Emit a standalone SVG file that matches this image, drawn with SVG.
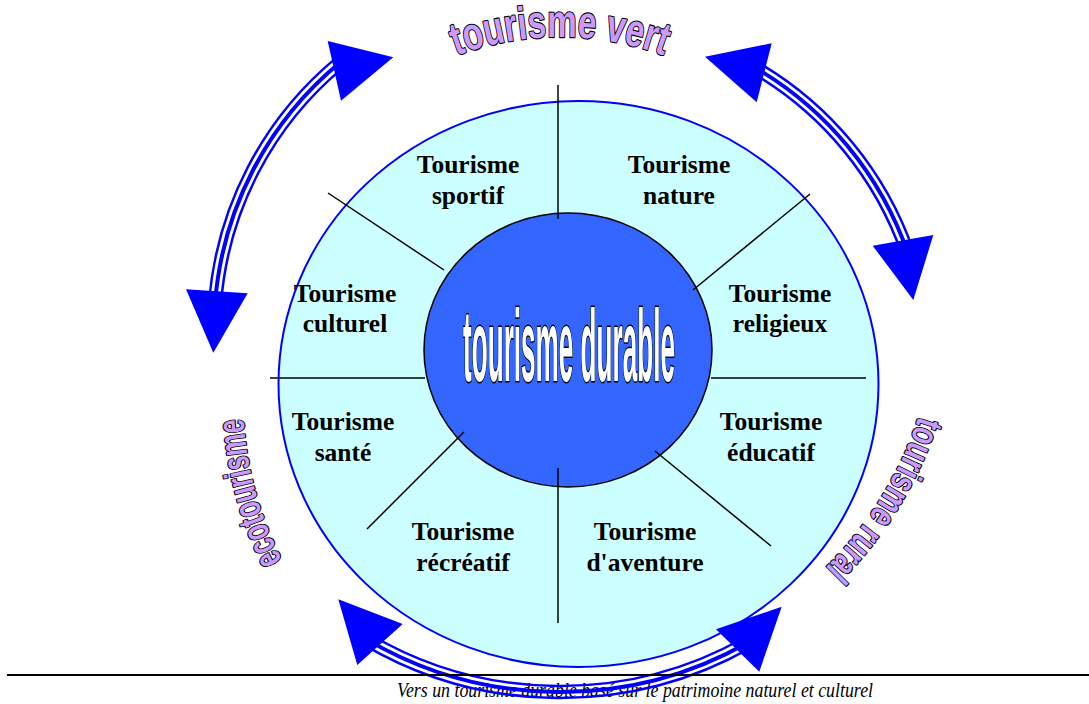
<svg xmlns="http://www.w3.org/2000/svg" width="1089" height="704" viewBox="0 0 1089 704">
  <style>
    .lbl { font-family: "Liberation Serif", "Times New Roman", serif; font-weight: bold; font-size: 25.5px; fill: #000; text-anchor: middle; }
    .div { stroke: #000; stroke-width: 1.5; fill: none; }
    .art { font-family: "Liberation Sans", Arial, sans-serif; font-weight: bold; fill: #cc99ff; stroke: #000; stroke-width: 2.2; paint-order: stroke; stroke-linejoin: round; }
    .thin { stroke: #0000ff; stroke-width: 2.5; fill: none; }
    .thick { stroke: #0000ff; stroke-width: 4; fill: none; }
    .head { fill: #0000ff; }
  </style>
  <defs>
    <path id="arcTop" d="M 260 337 A 300 300 0 0 1 860 337"/>
    <path id="arcLeft" d="M 590 747 A 347 347 0 0 1 590 53"/>
    <path id="arcRight" d="M 560 -77 A 377 377 0 0 1 560 677"/>
  </defs>
  <rect width="1089" height="704" fill="#ffffff"/>

  <g id="outer-ring">
    <ellipse cx="578.5" cy="384" rx="300" ry="283" fill="#ccffff" stroke="#0000ff" stroke-width="2"/>
  </g>

  <g id="center">
    <ellipse cx="568" cy="350" rx="144" ry="137" fill="#3366ff" stroke="#000" stroke-width="1.5"/>
  </g>

  <g id="dividers">
    <line class="div" x1="558" y1="85" x2="558" y2="219"/>
    <line class="div" x1="558" y1="468" x2="558" y2="623"/>
    <line class="div" x1="270" y1="378" x2="425" y2="378"/>
    <line class="div" x1="711" y1="378" x2="866" y2="378"/>
    <line class="div" x1="328" y1="193" x2="444" y2="270"/>
    <line class="div" x1="693" y1="290" x2="810" y2="194"/>
    <line class="div" x1="464" y1="432" x2="367" y2="529"/>
    <line class="div" x1="655" y1="451" x2="771" y2="546"/>
  </g>

  <g id="center-label">
    <text x="569" y="381" font-family="Liberation Sans, Arial, sans-serif" font-weight="bold" font-size="102" fill="#ffffff" stroke="#000" stroke-width="3" paint-order="stroke" stroke-linejoin="round" text-anchor="middle" textLength="212" lengthAdjust="spacingAndGlyphs">tourisme durable</text>
  </g>

  <g id="node-sportif"><text class="lbl" x="468" y="173">Tourisme</text><text class="lbl" x="468" y="204">sportif</text></g>
  <g id="node-nature"><text class="lbl" x="679" y="173">Tourisme</text><text class="lbl" x="679" y="204">nature</text></g>
  <g id="node-culturel"><text class="lbl" x="345" y="302">Tourisme</text><text class="lbl" x="345" y="332">culturel</text></g>
  <g id="node-religieux"><text class="lbl" x="780" y="302">Tourisme</text><text class="lbl" x="780" y="332">religieux</text></g>
  <g id="node-sante"><text class="lbl" x="343" y="430">Tourisme</text><text class="lbl" x="343" y="461">santé</text></g>
  <g id="node-educatif"><text class="lbl" x="771" y="430">Tourisme</text><text class="lbl" x="771" y="461">éducatif</text></g>
  <g id="node-recreatif"><text class="lbl" x="463" y="540">Tourisme</text><text class="lbl" x="463" y="571">récréatif</text></g>
  <g id="node-aventure"><text class="lbl" x="645" y="540">Tourisme</text><text class="lbl" x="645" y="571">d'aventure</text></g>

  <g id="wordart-vert">
    <text class="art" font-size="46"><textPath href="#arcTop" startOffset="50%" text-anchor="middle" textLength="212" lengthAdjust="spacingAndGlyphs">tourisme vert</textPath></text>
  </g>
  <g id="wordart-eco">
    <text class="art" font-size="38"><textPath href="#arcLeft" startOffset="452" text-anchor="middle" textLength="148" lengthAdjust="spacingAndGlyphs">ecotourisme</textPath></text>
  </g>
  <g id="wordart-rural">
    <text class="art" font-size="38"><textPath href="#arcRight" startOffset="800" text-anchor="middle" textLength="180" lengthAdjust="spacingAndGlyphs">tourisme rural</textPath></text>
  </g>

  <g id="caption-text">
    <text x="397" y="697" font-family="Liberation Serif, Times New Roman, serif" font-style="italic" font-size="22" fill="#000" textLength="476" lengthAdjust="spacingAndGlyphs">Vers un tourisme durable basé sur le patrimoine naturel et culturel</text>
  </g>

  <g id="connectors">
    <g id="arrow-left">
      <path class="thin" d="M 221.05 303.25 A 341 341 0 0 1 344.10 66.88"/>
      <path class="thick" d="M 215.07 302.77 A 347 347 0 0 1 340.28 62.25"/>
      <path class="thin" d="M 209.09 302.30 A 353 353 0 0 1 336.46 57.62"/>
      <polygon class="head" points="327.7,41 393.3,57.3 341,100.7"/>
      <polygon class="head" points="186,289.3 247.7,293.3 213.3,352.7"/>
    </g>
    <g id="arrow-right">
      <path class="thin" d="M 750.70 71.98 A 341 341 0 0 1 902.62 256.28"/>
      <path class="thick" d="M 753.70 66.79 A 347 347 0 0 1 908.30 254.33"/>
      <path class="thin" d="M 756.70 61.59 A 353 353 0 0 1 913.97 252.37"/>
      <polygon class="head" points="705,56.7 771.7,43.3 756.7,102.3"/>
      <polygon class="head" points="872.7,245.7 933.3,235 913.3,300"/>
    </g>
    <g id="arrow-bottom">
      <path class="thin" d="M 369.16 633.97 A 376 376 0 0 0 745.15 637.26"/>
      <path class="thick" d="M 366.12 639.14 A 382 382 0 0 0 748.10 642.48"/>
      <path class="thin" d="M 363.07 644.31 A 388 388 0 0 0 751.06 647.70"/>
      <polygon class="head" points="338.3,599.3 402.7,624 357.3,665"/>
      <polygon class="head" points="781.7,606.7 716,629.3 759.3,671.7"/>
    </g>
  </g>

  <g id="caption-rule">
    <line x1="7" y1="675" x2="1089" y2="675" stroke="#000" stroke-width="2"/>
  </g>
</svg>
